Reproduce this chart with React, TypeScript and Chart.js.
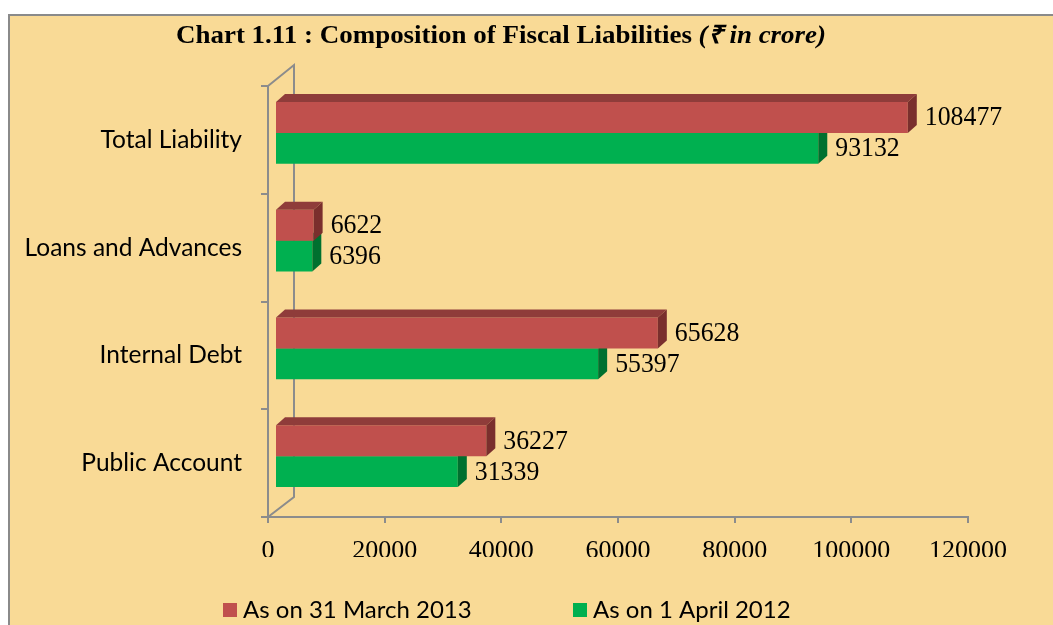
import React, { useEffect, useRef } from "react";
import { Chart, registerables } from "chart.js";

Chart.register(...registerables);

const categories = ["Total Liability", "Loans and Advances", "Internal Debt", "Public Account"];
const march2013 = [108477, 6622, 65628, 36227];
const april2012 = [93132, 6396, 55397, 31339];
const seriesLabels = ["As on 31 March 2013", "As on 1 April 2012"];
const xTickValues = [0, 20000, 40000, 60000, 80000, 100000, 120000];
const titleMain = "Chart 1.11 : Composition of Fiscal Liabilities ";
const titleUnit = "(₹ in crore)";

const RED = "#C0504D";
const RED_TOP = "#8F3C3A";
const RED_SIDE = "#7A2F2D";
const GREEN = "#00B050";
const GREEN_TOP = "#008C3E";
const GREEN_SIDE = "#00702F";
const AXIS = "#8C8C8C";

const DEPTH_X = 9;
const DEPTH_Y = 8;
const SHIFT_X = 7;
const SHIFT_Y = -7;

const SERIF = '"Liberation Serif", "Times New Roman", serif';
const SANS = '"Lato", "Open Sans", sans-serif';

const threeD = {
  id: "threeD",
  beforeDatasetsDraw(chart: any) {
    const { ctx, chartArea } = chart;
    const { left, top, bottom } = chartArea;
    ctx.save();
    ctx.strokeStyle = AXIS;
    ctx.lineWidth = 2;
    ctx.beginPath();
    ctx.moveTo(left, top);
    ctx.lineTo(left + 26, top - 21);
    ctx.lineTo(left + 26, bottom - 20);
    ctx.lineTo(left, bottom);
    ctx.stroke();
    ctx.restore();
    ctx.save();
    ctx.translate(SHIFT_X, SHIFT_Y);
  },
  afterDatasetDraw(chart: any, args: any) {
    const { ctx } = chart;
    const idx = args.index;
    const topCol = idx === 0 ? RED_TOP : GREEN_TOP;
    const sideCol = idx === 0 ? RED_SIDE : GREEN_SIDE;
    args.meta.data.forEach((el: any) => {
      const p = el.getProps(["x", "y", "base", "height"], true);
      const yTop = p.y - p.height / 2;
      const yBot = p.y + p.height / 2;
      ctx.fillStyle = topCol;
      ctx.beginPath();
      ctx.moveTo(p.base, yTop);
      ctx.lineTo(p.base + DEPTH_X, yTop - DEPTH_Y);
      ctx.lineTo(p.x + DEPTH_X, yTop - DEPTH_Y);
      ctx.lineTo(p.x, yTop);
      ctx.closePath();
      ctx.fill();
      ctx.fillStyle = sideCol;
      ctx.beginPath();
      ctx.moveTo(p.x, yTop);
      ctx.lineTo(p.x + DEPTH_X, yTop - DEPTH_Y);
      ctx.lineTo(p.x + DEPTH_X, yBot - DEPTH_Y);
      ctx.lineTo(p.x, yBot);
      ctx.closePath();
      ctx.fill();
    });
  },
  afterDatasetsDraw(chart: any) {
    const { ctx } = chart;
    ctx.fillStyle = "#000";
    ctx.font = `27px ${SERIF}`;
    ctx.textAlign = "left";
    ctx.textBaseline = "middle";
    chart.data.datasets.forEach((ds: any, i: number) => {
      const meta = chart.getDatasetMeta(i);
      meta.data.forEach((el: any, j: number) => {
        const p = el.getProps(["x", "y"], true);
        const txt = String(ds.data[j]);
        const w = ctx.measureText(txt).width;
        const target = txt.length * 12.9;
        ctx.save();
        ctx.translate(p.x + DEPTH_X + 8, p.y + 1);
        ctx.scale(target / w, 1);
        ctx.fillText(txt, 0, 0);
        ctx.restore();
      });
    });
    ctx.restore();
  },
  afterDraw(chart: any) {
    const { ctx } = chart;
    ctx.save();
    ctx.fillStyle = "#000";
    ctx.textBaseline = "middle";
    ctx.textAlign = "left";
    const fMain = `bold 25px ${SERIF}`;
    const fUnit = `italic bold 25px ${SERIF}`;
    ctx.font = fMain;
    const w1 = ctx.measureText(titleMain).width;
    ctx.font = fUnit;
    const w2 = ctx.measureText(titleUnit).width;
    const target = 650;
    const sx = target / (w1 + w2);
    const cx = 501;
    ctx.translate(cx - target / 2, 37);
    ctx.scale(sx, 1);
    ctx.font = fMain;
    ctx.fillText(titleMain, 0, 0);
    ctx.font = fUnit;
    ctx.fillText(titleUnit, w1, 0);
    ctx.restore();

    ctx.save();
    ctx.font = `24px ${SANS}`;
    ctx.textBaseline = "middle";
    ctx.textAlign = "left";
    const legendY = 610;
    const items = [
      { x: 223, color: RED, label: seriesLabels[0] },
      { x: 573, color: GREEN, label: seriesLabels[1] },
    ];
    items.forEach((it) => {
      ctx.fillStyle = it.color;
      ctx.fillRect(it.x, legendY - 7, 14, 14);
      ctx.fillStyle = "#000";
      ctx.fillText(it.label, it.x + 20, legendY);
    });
    ctx.restore();
  },
};

export default function App() {
  const ref = useRef<HTMLCanvasElement | null>(null);

  useEffect(() => {
    if (!ref.current) return;
    const chart = new Chart(ref.current, {
      type: "bar",
      data: {
        labels: categories,
        datasets: [
          { label: seriesLabels[0], data: march2013, backgroundColor: RED, borderWidth: 0, categoryPercentage: 0.575, barPercentage: 1 },
          { label: seriesLabels[1], data: april2012, backgroundColor: GREEN, borderWidth: 0, categoryPercentage: 0.575, barPercentage: 1 },
        ],
      },
      options: {
        indexAxis: "y",
        responsive: false,
        animation: false,
        devicePixelRatio: 1,
        layout: { padding: { top: 86, right: 85, bottom: 68, left: 0 } },
        plugins: {
          legend: { display: false },
          title: { display: false },
          tooltip: { enabled: false },
        },
        scales: {
          x: {
            type: "linear",
            min: 0,
            max: 120000,
            afterBuildTicks: (s: any) => {
              s.ticks = xTickValues.map((v) => ({ value: v }));
            },
            afterFit: (s: any) => {
              s.height = 40;
            },
            grid: { display: true, drawOnChartArea: false, drawTicks: true, tickLength: 6, color: AXIS, lineWidth: 2 },
            border: { display: true, color: AXIS, width: 2 },
            ticks: {
              color: "#000",
              padding: 13,
              maxRotation: 0,
              autoSkip: false,
              callback: (v: any) => String(v),
              font: { family: SERIF, size: 26 },
            },
          },
          y: {
            afterFit: (s: any) => {
              s.width = 268;
            },
            grid: { display: true, drawOnChartArea: false, drawTicks: true, tickLength: 7, offset: true, color: AXIS, lineWidth: 2 },
            border: { display: true, color: AXIS, width: 2 },
            ticks: {
              color: "#000",
              padding: 19,
              font: { family: SANS, size: 24.5 },
            },
          },
        },
      },
      plugins: [threeD],
    });
    return () => chart.destroy();
  }, []);

  return (
    <div style={{ position: "absolute", left: 0, top: 0, width: 1053, height: 625, overflow: "hidden", background: "#fff" }}>
      <div
        style={{
          position: "absolute",
          left: 8,
          top: 14,
          width: 1100,
          height: 700,
          border: "2px solid #8a8a8a",
          background: "#F9DA96",
        }}
      />
      <canvas ref={ref} width={1053} height={625} style={{ position: "absolute", left: 0, top: 0 }} />
    </div>
  );
}
